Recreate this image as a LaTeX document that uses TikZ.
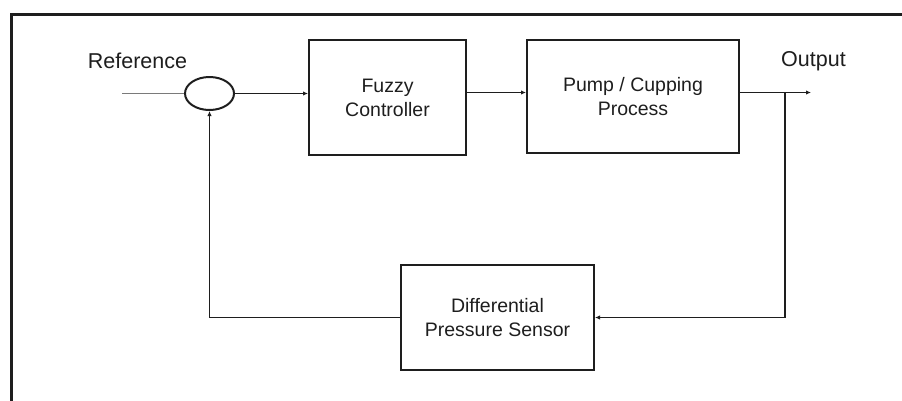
\documentclass[tikz,border=0pt]{standalone}
\usepackage{fontspec}
\setmainfont{Liberation Sans}
\usetikzlibrary{arrows.meta,shapes.geometric}

\definecolor{ink}{HTML}{1E1E1E}
\definecolor{feedin}{HTML}{7A7A7A}

\tikzset{
  blockbox/.style={draw=ink, line width=2pt, minimum width=#1, inner sep=0pt,
    align=center, text=ink, font=\fontsize{19.5}{24}\selectfont},
  sumjunction/.style={draw=ink, line width=2pt, ellipse, minimum width=49pt,
    minimum height=33pt, inner sep=0pt},
  wire/.style={draw=ink, line width=1.6pt},
  arr/.style={wire, -{Latex[length=5pt,width=4.5pt]}},
  caption/.style={text=ink, font=\fontsize{21.5}{24}\selectfont, inner sep=0pt}
}

\begin{document}
\begin{tikzpicture}[x=1pt, y=-1pt]
  \useasboundingbox (0,0) rectangle (902,400);
  \begin{scope}
    \clip (0,0) rectangle (902,400);
    % outer frame, running past the right and bottom edges
    \draw[ink, line width=3pt] (11,420) -- (11,14) -- (920,14);
  \end{scope}

  % blocks
  \node[blockbox=157pt, minimum height=115pt] (fuzzy) at (387.5,97.5) {Fuzzy\\Controller};
  \node[blockbox=212pt, minimum height=113pt] (pump) at (633,96.5) {Pump / Cupping\\Process};
  \node[blockbox=193pt, minimum height=105pt] (sensor) at (497.5,317.5) {Differential\\Pressure Sensor};
  \node[sumjunction] (sum) at (209.5,93.5) {};

  % labels
  \node[caption] (reflabel) at (137.5,61) {Reference};
  \node[caption] (outlabel) at (813.5,61) {Output};

  % free ends and branch point
  \coordinate (in) at (122,93.5);
  \coordinate (out) at (811,92.5);
  \coordinate (branch) at (785,92.5);

  % forward path
  \draw[draw=feedin, line width=1.6pt] (in) -- (sum.west);
  \draw[arr] (sum.east) -- (sum.east -| fuzzy.west);
  \draw[arr] (out -| fuzzy.east) -- (out -| pump.west);
  \draw[arr] (out -| pump.east) -- (out);

  % feedback path
  \draw[arr] (branch) |- (sensor.east);
  \draw[arr] (sensor.west) -| (sum.south);
\end{tikzpicture}
\end{document}
